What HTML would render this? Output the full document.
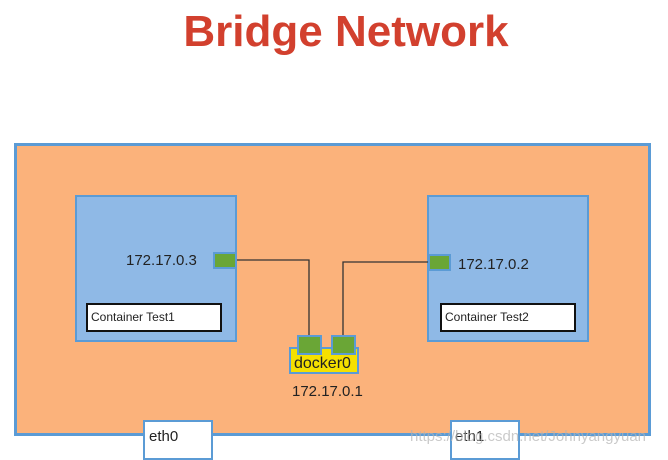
<!DOCTYPE html>
<html><head><style>
body{margin:0;width:668px;height:459px;background:#fff;position:relative;overflow:hidden;font-family:"Liberation Sans",sans-serif}
div{position:absolute;box-sizing:border-box}
.t{font-size:14px;color:#222}
</style></head><body>
<div style="left:0;top:7px;width:692px;text-align:center;font-size:44px;font-weight:bold;color:#d2402e">Bridge Network</div>
<div style="left:14px;top:143px;width:637px;height:293px;background:#fbb27b;border:3px solid #5b9bd5"></div>
<div style="left:75px;top:195px;width:162px;height:147px;background:#8fb9e6;border:2px solid #5b9bd5"></div>
<div style="left:427px;top:195px;width:162px;height:147px;background:#8fb9e6;border:2px solid #5b9bd5"></div>
<div style="left:86px;top:303px;width:136px;height:29px;background:#fff;border:2px solid #111"></div>
<div style="left:440px;top:303px;width:136px;height:29px;background:#fff;border:2px solid #111"></div>
<div class="t" style="left:91px;top:310px;font-size:12px">Container Test1</div>
<div class="t" style="left:445px;top:310px;font-size:12px">Container Test2</div>
<div class="t" style="left:126px;top:252px;font-size:15px">172.17.0.3</div>
<div class="t" style="left:458px;top:256px;font-size:15px">172.17.0.2</div>
<svg style="position:absolute;left:0;top:0" width="668" height="459"><path d="M236 260H309V336M343 336V262H428" fill="none" stroke="#333" stroke-width="1.3"/></svg>
<div style="left:289px;top:347px;width:70px;height:27px;background:#f5e000;border:2px solid #5b9bd5"></div>
<div style="left:213px;top:252px;width:24px;height:17px;background:#6aa636;border:2px solid #5b9bd5"></div>
<div style="left:428px;top:254px;width:23px;height:17px;background:#6aa636;border:2px solid #5b9bd5"></div>
<div style="left:297px;top:335px;width:25px;height:20px;background:#6aa636;border:2px solid #5b9bd5"></div>
<div style="left:331px;top:335px;width:25px;height:20px;background:#6aa636;border:2px solid #5b9bd5"></div>
<div class="t" style="left:294px;top:355px;font-size:16px">docker0</div>
<div class="t" style="left:292px;top:383px;font-size:15px">172.17.0.1</div>
<div style="left:143px;top:420px;width:70px;height:40px;background:#fff;border:2px solid #5b9bd5"></div>
<div style="left:450px;top:420px;width:70px;height:40px;background:#fff;border:2px solid #5b9bd5"></div>
<div class="t" style="left:149px;top:428px;font-size:15px">eth0</div>
<div class="t" style="left:455px;top:428px;font-size:15px">eth1</div>
<div style="left:410px;top:428px;font-size:15px;color:rgba(180,180,180,0.7)">https://blog.csdn.net/Johnyangyuan</div>
</body></html>
